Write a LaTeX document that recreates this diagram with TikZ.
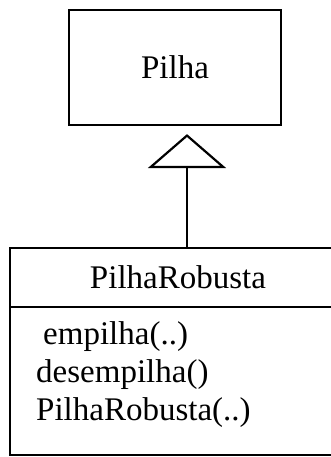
\documentclass[tikz,border=0pt]{standalone}
\usepackage{fontspec}
\setmainfont{Liberation Serif}
\usetikzlibrary{positioning,arrows.meta}

\begin{document}
\begin{tikzpicture}[x=1pt,y=-1pt]
	
	\tikzset{
		classbox/.style={
			draw,
			rectangle,
			line width=2.2pt,
			inner sep=0pt,
			font=\fontsize{33pt}{38pt}\selectfont
		},
		compartment/.style={
			rectangle,
			minimum width=336pt,
			inner sep=0pt,
			outer sep=0pt,
			font=\fontsize{33pt}{38pt}\selectfont
		},
		methods/.style={
			align=left,
			inner sep=0pt,
			font=\fontsize{33pt}{38pt}\selectfont
		},
		outline/.style={
			line width=2.2pt
		},
		inherit/.style={
			line width=2.2pt,
			shorten >=8pt,
			-{Triangle[open,length=34pt,width=78pt,line width=2.2pt]}
		}
	}
	
	\useasboundingbox (0,0) rectangle (330,457);
	
	% PILHA
	\node[classbox, minimum width=212pt, minimum height=115pt] (pilha) at (175,67.5) {Pilha};
	
	% PILHA ROBUSTA
	\node[compartment, minimum height=59pt] (robusta) at (178,277.5) {PilhaRobusta};
	\node[compartment, minimum height=148pt, below=0pt of robusta] (corpo) {};
	\node[methods, anchor=north west] (metodos) at ([xshift=26pt,yshift=-14pt]corpo.north west) {
		\hspace*{7pt}empilha(..)\\
		desempilha()\\
		PilhaRobusta(..)
	};
	
	% CLASS OUTLINE (open to the right)
	\draw[outline] (robusta.north east) -- (robusta.north west) -- (corpo.south west) -- (corpo.south east);
	\draw[outline] (robusta.south west) -- (robusta.south east);
	
	% HERANCA
	\draw[inherit] ([xshift=9pt]robusta.north) -- ([xshift=12pt]pilha.south);
	
\end{tikzpicture}
\end{document}
